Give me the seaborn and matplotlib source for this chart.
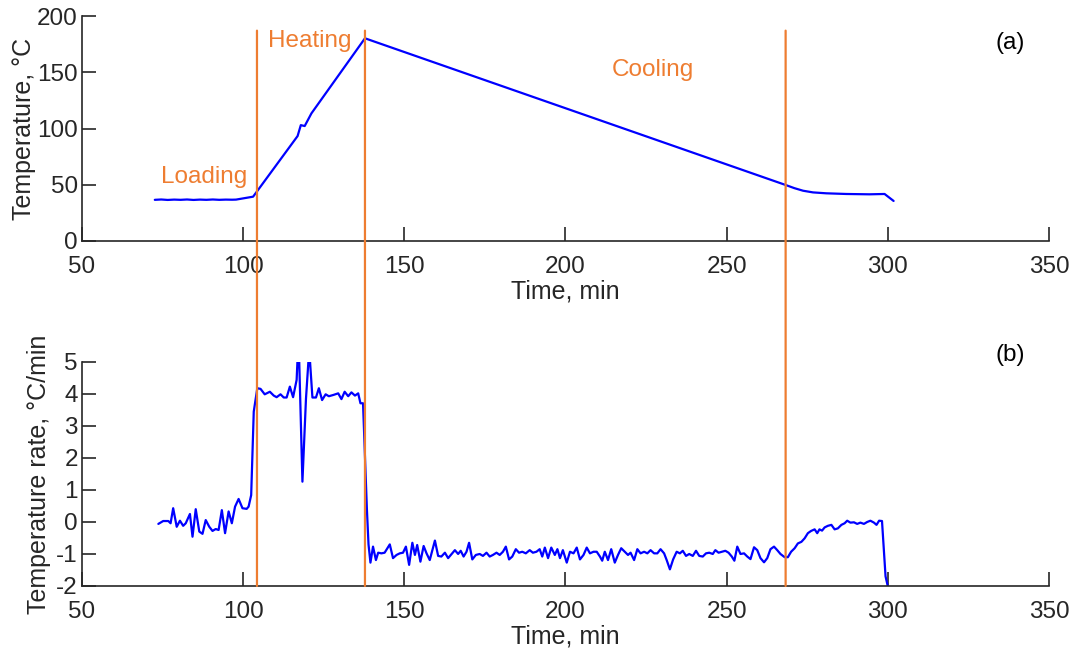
import matplotlib
matplotlib.use("Agg")
import matplotlib.pyplot as plt
from matplotlib.patches import ConnectionPatch
import seaborn as sns
import pandas as pd

# ---------------- data ----------------
temp_time = [72.6, 74.6, 76.6, 78.6, 80.6, 82.6, 84.6, 86.6, 88.6, 90.6, 92.6, 94.6, 96.6, 97.8,
             103.1, 116.9, 117.9, 119.1, 121.2, 137.8,
             268.3, 271.0, 273.7, 276.8, 280.9, 287.1, 294.3, 299.0, 301.8]
temp_value = [36.6, 36.9, 36.5, 36.8, 36.6, 36.9, 36.5, 36.8, 36.6, 36.9, 36.6, 36.8, 36.7, 36.8,
              39.4, 93.3, 103.0, 102.2, 113.5, 180.2,
              49.8, 47.0, 44.7, 43.2, 42.4, 41.8, 41.5, 41.8, 35.6]

rate_time = [73.7, 75.2, 76.8, 77.5, 78.3, 79.4, 80.4, 81.4, 82.2, 83.5, 84.3, 85.3, 86.4, 87.4,
             88.4, 89.5, 90.5, 91.5, 92.4, 93.4, 94.4, 95.5, 96.5, 97.5, 98.6, 99.8, 101.1, 101.7,
             102.5, 103.3, 104.4, 105.4, 106.7, 108.3, 109.5, 110.4, 111.6, 112.6, 113.5, 114.5,
             115.5, 116.6, 117.2, 118.4, 119.5, 120.5, 121.5, 122.6, 123.5, 124.5, 125.6, 126.6,
             128.0, 129.5, 130.5, 131.5, 132.6, 133.6, 134.7, 135.7, 136.4, 137.2, 138.4, 138.9,
             139.5, 140.3, 141.2, 141.9, 142.9, 143.9, 145.5, 146.5, 147.6, 148.6, 149.6, 150.5,
             151.5, 152.5, 153.3, 154.0, 155.0, 156.0, 156.9, 157.9, 159.5, 160.5, 161.5, 162.6,
             163.6, 164.6, 165.7, 166.7, 167.5, 168.4, 169.3, 170.1, 171.1, 172.2, 173.4, 174.4,
             175.5, 176.5, 177.5, 178.6, 179.6, 180.6, 181.5, 182.5, 183.5, 184.6, 185.6, 186.6,
             187.7, 188.9, 189.9, 191.0, 192.0, 192.8, 193.6, 194.6, 195.6, 196.7, 197.5, 198.3,
             199.2, 200.4, 201.4, 202.5, 203.5, 204.5, 205.6, 206.6, 207.6, 208.7, 209.7, 210.7,
             211.4, 212.2, 213.2, 214.2, 215.3, 216.3, 217.3, 218.4, 219.4, 220.2, 221.3, 222.3,
             223.3, 224.4, 225.4, 226.4, 227.5, 228.5, 229.5, 230.6, 231.4, 232.4, 233.4, 234.5,
             235.5, 236.4, 237.4, 238.4, 239.5, 240.5, 241.5, 242.6, 243.6, 244.6, 245.7, 246.5,
             247.5, 248.5, 249.6, 250.6, 251.6, 252.4, 253.3, 254.3, 255.4, 256.4, 257.4, 258.5,
             259.5, 260.5, 261.6, 262.6, 263.6, 264.7, 265.7, 266.7, 268.0, 269.0, 270.0, 271.1,
             272.1, 273.2, 274.2, 275.2, 276.2, 277.3, 278.1, 278.8, 279.6, 280.4, 281.4, 282.5,
             283.5, 284.5, 285.6, 286.6, 287.4, 288.4, 289.5, 290.5, 291.5, 292.6, 293.6, 294.6,
             295.7, 296.5, 297.3, 298.2, 299.3, 300.2]
rate_value = [-0.06, 0.03, 0.03, -0.04, 0.43, -0.15, 0.04, -0.12, -0.04, 0.25, -0.46, 0.40, -0.30, -0.37,
              0.06, -0.15, -0.28, -0.22, -0.25, 0.37, -0.35, 0.33, -0.04, 0.48, 0.72, 0.43, 0.41, 0.48,
              0.84, 3.45, 4.18, 4.16, 3.99, 4.07, 3.95, 3.90, 3.99, 3.89, 3.89, 4.23,
              3.90, 4.44, 5.80, 1.26, 3.85, 5.40, 3.89, 3.89, 4.18, 3.81, 3.99, 3.93,
              3.97, 4.02, 3.84, 4.07, 3.93, 4.05, 3.95, 4.02, 3.71, 3.71, 0.40, -0.70,
              -1.27, -0.77, -1.19, -0.96, -0.98, -0.96, -0.70, -1.13, -1.03, -0.98, -0.96, -0.77,
              -1.34, -0.65, -1.03, -0.72, -1.24, -0.75, -0.98, -1.19, -0.58, -1.06, -1.08, -0.96,
              -1.13, -1.01, -0.88, -1.00, -0.90, -1.08, -0.93, -0.65, -1.17, -1.03, -1.00, -1.06,
              -0.96, -1.08, -1.03, -0.96, -1.03, -0.93, -0.77, -1.17, -1.08, -0.85, -0.96, -0.93,
              -0.98, -0.88, -0.96, -0.93, -0.85, -1.08, -0.80, -1.13, -0.80, -1.03, -0.85, -1.13,
              -0.88, -1.27, -0.93, -0.98, -0.80, -1.17, -1.03, -0.80, -0.98, -0.93, -0.93, -1.08,
              -1.21, -0.93, -1.19, -0.85, -1.27, -1.03, -0.82, -0.93, -1.03, -0.96, -1.19, -0.85,
              -0.98, -0.93, -0.98, -0.88, -0.98, -0.98, -0.85, -0.98, -1.19, -1.48, -1.17, -0.93,
              -0.98, -0.90, -1.06, -1.00, -1.06, -0.90, -1.06, -1.08, -0.98, -0.96, -1.00, -0.88,
              -0.96, -0.93, -0.90, -0.96, -1.08, -1.21, -0.77, -1.00, -0.98, -1.08, -1.16, -0.79,
              -0.88, -1.13, -1.26, -1.13, -0.85, -0.77, -0.88, -1.00, -1.10, -1.10, -0.93, -0.82,
              -0.67, -0.62, -0.51, -0.35, -0.28, -0.23, -0.35, -0.23, -0.27, -0.17, -0.12, -0.09,
              -0.23, -0.20, -0.09, -0.04, 0.04, -0.02, -0.01, -0.06, -0.02, -0.06, 0.00, 0.04,
              -0.02, -0.09, 0.04, 0.03, -1.70, -2.10]

phase_bounds = [104.3, 137.8, 268.3]
phase_labels = ["Loading", "Heating", "Cooling"]
phase_label_pos = [(87.8, 57), (120.7, 178), (227.0, 152)]

x_ticks = [50, 100, 150, 200, 250, 300, 350]
temp_ticks = [0, 50, 100, 150, 200]
rate_ticks = [-2, -1, 0, 1, 2, 3, 4, 5]

# ---------------- style ----------------
sns.set_style("ticks")
plt.rcParams["font.family"] = ["Liberation Sans", "DejaVu Sans"]
plt.rcParams["axes.unicode_minus"] = False

BLUE = "#0000FF"
ORANGE = "#EE7D31"
DARK = "#262626"
FS = 17.5
FS_LAB = 18

fig = plt.figure(figsize=(10.74, 6.54), dpi=100)
ax1 = fig.add_axes([0.0763, 0.6315, 0.9004, 0.344])
ax2 = fig.add_axes([0.0763, 0.1040, 0.9004, 0.3425])

df_t = pd.DataFrame({"time": temp_time, "temp": temp_value})
df_r = pd.DataFrame({"time": rate_time, "rate": rate_value})

sns.lineplot(data=df_t, x="time", y="temp", ax=ax1, color=BLUE, linewidth=1.6, sort=False)
sns.lineplot(data=df_r, x="time", y="rate", ax=ax2, color=BLUE, linewidth=1.6, sort=False)

ax1.set_xlim(50, 350)
ax1.set_ylim(0, 200)
ax2.set_xlim(50, 350)
ax2.set_ylim(-2, 5)
ax1.set_xticks(x_ticks)
ax2.set_xticks(x_ticks)
ax1.set_yticks(temp_ticks)
ax2.set_yticks(rate_ticks)

for ax in (ax1, ax2):
    sns.despine(ax=ax)
    for s in ("left", "bottom"):
        ax.spines[s].set_color(DARK)
        ax.spines[s].set_linewidth(1.2)
    ax.tick_params(direction="in", length=10, width=1.2, colors=DARK, labelsize=FS)
    ax.tick_params(axis="x", pad=11)
    ax.tick_params(axis="y", pad=3)
    ax.set_xlabel("Time, min", fontsize=FS_LAB, color=DARK, labelpad=1)

ax1.set_ylabel("Temperature, °C", fontsize=FS_LAB, color=DARK, labelpad=1)
ax2.set_ylabel("Temperature rate, °C/min", fontsize=FS_LAB, color=DARK, labelpad=4)

# phase boundary lines spanning both panels
for xb in phase_bounds:
    con = ConnectionPatch(xyA=(xb, 187), coordsA=ax1.transData,
                          xyB=(xb, -2), coordsB=ax2.transData,
                          color=ORANGE, linewidth=1.6, zorder=5)
    fig.add_artist(con)

for lab, (lx, ly) in zip(phase_labels, phase_label_pos):
    ax1.text(lx, ly, lab, color=ORANGE, fontsize=FS, ha="center", va="center")

ax1.text(338, 176, "(a)", color="black", fontsize=FS, ha="center", va="center")
ax2.text(338, 5.22, "(b)", color="black", fontsize=FS, ha="center", va="center", clip_on=False)

fig.savefig("out.png", dpi=100)
